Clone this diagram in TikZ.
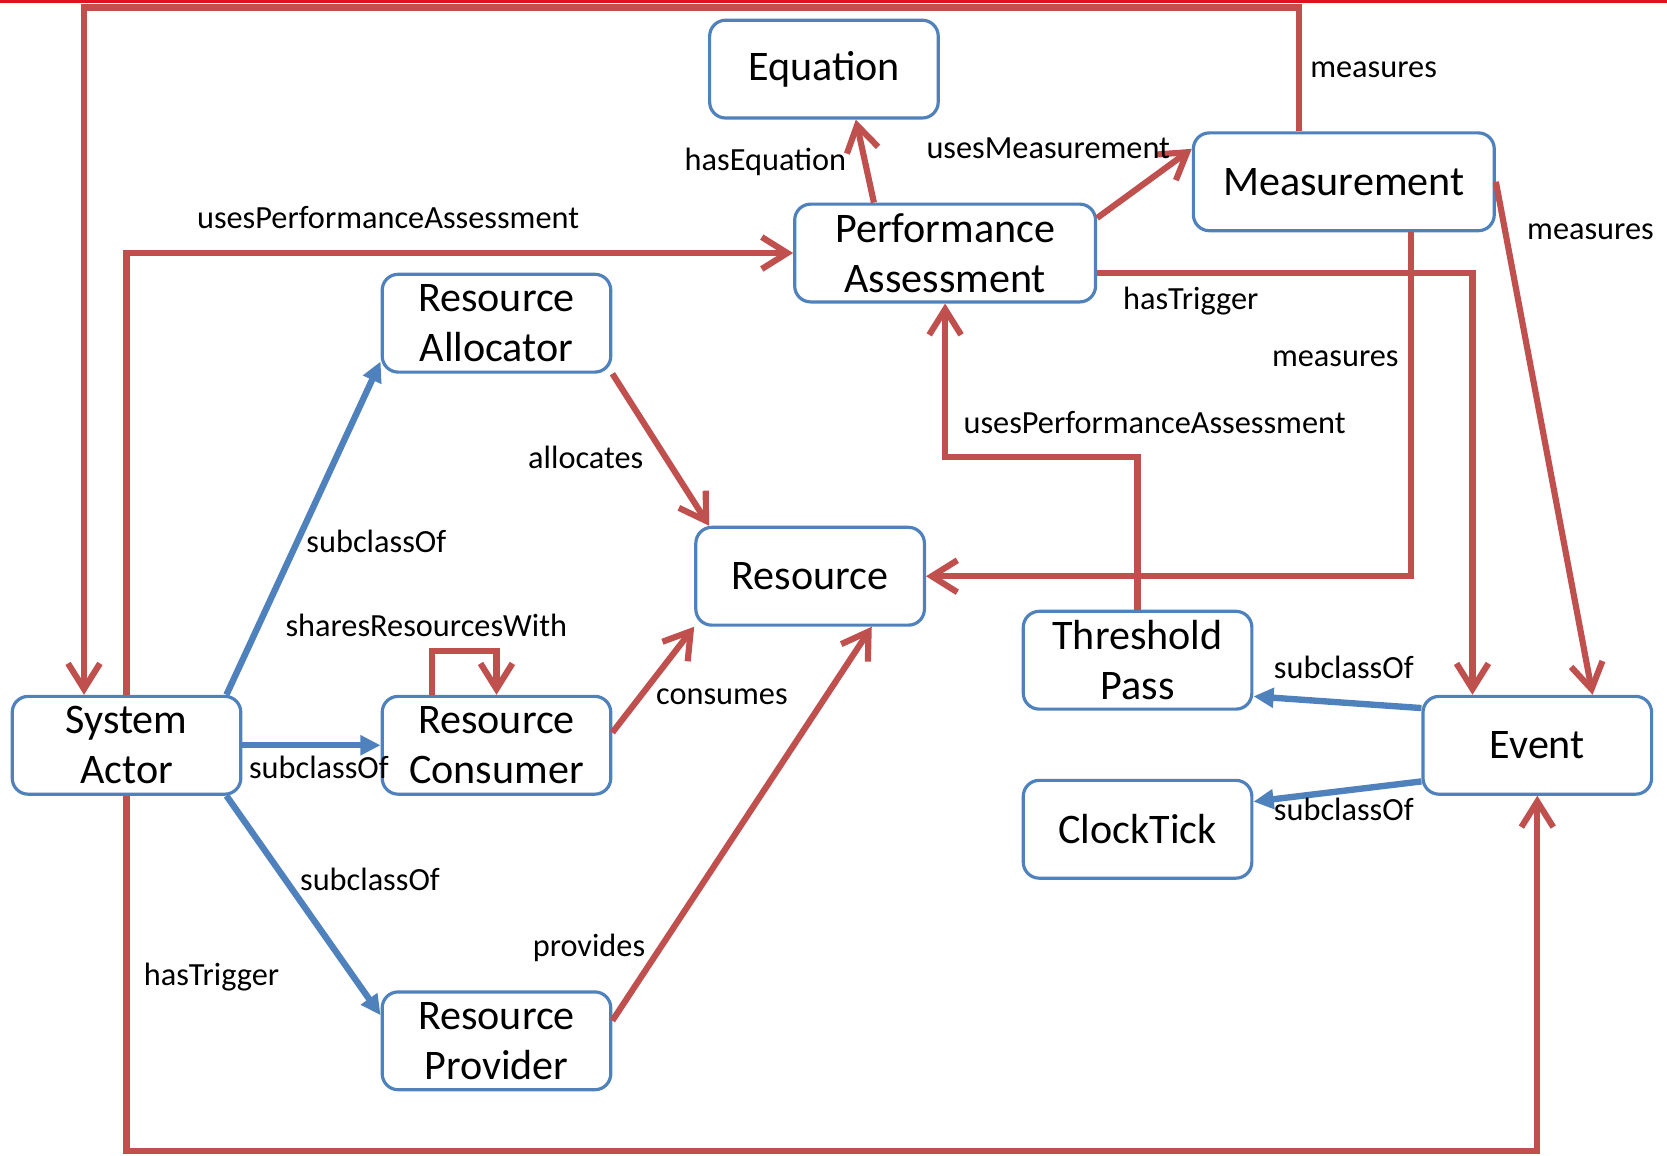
\documentclass[tikz,border=0pt]{standalone}
\usepackage{fontspec}
\setmainfont{Carlito}
\usetikzlibrary{arrows.meta,calc}
\definecolor{relred}{HTML}{C0504D}
\definecolor{subblue}{HTML}{4F81BD}
\definecolor{boxblue}{HTML}{4F81BD}
\definecolor{edgered}{HTML}{E3101E}
\begin{document}
\begin{tikzpicture}[x=0.5pt,y=-0.5pt,
  box/.style={draw=boxblue, line width=1.5pt, rounded corners=7.5pt, fill=white,
    minimum width=107.5pt, minimum height=46pt, inner sep=0pt, align=center,
    font=\fontsize{19.8}{23.5}\selectfont},
  widebox/.style={box, minimum width=141.5pt},
  rel/.style={draw=relred, line width=2.9pt, -{Straight Barb[length=12pt,width=15pt]}},
  sub/.style={draw=subblue, line width=3pt, -{Triangle[length=9.5pt,width=9pt]}},
  lbl/.style={font=\fontsize{15.2}{18}\selectfont, inner sep=0pt}
]
\useasboundingbox (0,0) rectangle (1568,1087);
\fill[edgered] (0,0) rectangle (1568,3);

% classes
\node[box] (eq) at (775,65) {Equation};
\node[widebox] (meas) at (1264,171) {Measurement};
\node[widebox] (pa) at (889,238) {Performance\\Assessment};
\node[box] (ra) at (467,304) {Resource\\Allocator};
\node[box] (res) at (762,542) {Resource};
\node[box] (sa) at (119,701) {System\\Actor};
\node[box] (rc) at (467,701) {Resource\\Consumer};
\node[box] (rp) at (467,979) {Resource\\Provider};
\node[box] (tp) at (1070,621) {Threshold\\Pass};
\node[box] (ev) at (1446,701) {Event};
\node[box] (ct) at (1070,780) {ClockTick};

% bend points of the routed relations
\coordinate (tl) at (79,7);
\coordinate (tr) at (1222,7);
\coordinate (bl) at (119,1083);
\coordinate (tk) at (1070,430);

% object properties
\draw[rel] (meas.north -| tr) -- (tr) -- (tl) -- (sa.north -| tl);
\draw[rel] (sa.north) |- (pa.west);
\draw[rel] (sa.south) -- (bl) -| (ev.south);
\draw[rel] ($(pa.north)+(-67,0)$) -- ($(eq.south)+(30,0)$);
\draw[rel] ($(pa.east)+(0,-33)$) -- ($(meas.west)+(0,-31)$);
\draw[rel] (meas.east) -- ($(ev.north)+(52,0)$);
\draw[rel] ($(pa.east)+(0,19)$) -| ($(ev.north)+(-61,0)$);
\draw[rel] ($(meas.south)+(63,0)$) |- (res.east);
\draw[rel] (tp.north) -- (tk) -| (pa.south);
\draw[rel] (ra.south east) -- ($(res.north)+(-95,0)$);
\draw[rel] ($(rc.east)+(0,-12)$) -- (res.south west);
\draw[rel] ($(rp.east)+(0,-19)$) -- ($(res.south)+(58,0)$);
\draw[rel] ($(rc.north)+(-61,0)$) -- ++(0,-41) -| (rc.north);

% subclass relations
\draw[sub] ($(sa.north)+(94,0)$) -- ($(ra.west)+(0,36)$);
\draw[sub] (sa.east) -- (rc.west);
\draw[sub] ($(sa.south)+(94,0)$) -- ($(rp.west)+(0,-24)$);
\draw[sub] ($(ev.west)+(0,-35)$) -- ($(tp.east)+(0,34)$);
\draw[sub] ($(ev.west)+(0,34)$) -- ($(ct.east)+(0,-26)$);

% relation labels
\node[lbl] (l1) at (1292,66) {measures};
\node[lbl] (l2) at (365,205) {usesPerformanceAssessment};
\node[lbl] (l3) at (199,919) {hasTrigger};
\node[lbl] (l4) at (720,152) {hasEquation};
\node[lbl] (l5) at (986,139) {usesMeasurement};
\node[lbl] (l6) at (1496,218) {measures};
\node[lbl] (l7) at (1120,283) {hasTrigger};
\node[lbl] (l8) at (1256,337) {measures};
\node[lbl] (l9) at (1086,397) {usesPerformanceAssessment};
\node[lbl] (l10) at (551,430) {allocates};
\node[lbl] (l11) at (679,655) {consumes};
\node[lbl] (l12) at (554,892) {provides};
\node[lbl] (l13) at (401,588) {sharesResourcesWith};
\node[lbl] (l14) at (354,509) {subclassOf};
\node[lbl] (l15) at (300,722) {subclassOf};
\node[lbl] (l16) at (348,827) {subclassOf};
\node[lbl] (l17) at (1264,628) {subclassOf};
\node[lbl] (l18) at (1264,761) {subclassOf};
\end{tikzpicture}
\end{document}
